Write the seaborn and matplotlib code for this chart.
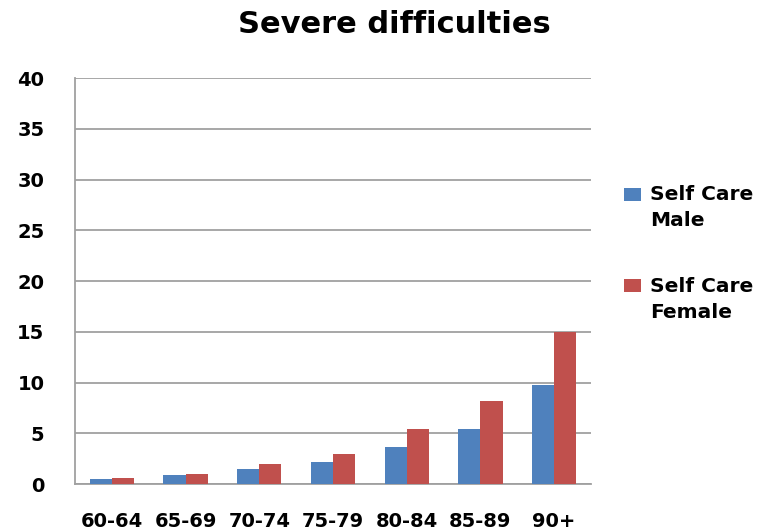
import matplotlib
matplotlib.use("Agg")
import matplotlib.pyplot as plt
from matplotlib.patches import Rectangle
import seaborn as sns
import pandas as pd

age_groups = ["60-64", "65-69", "70-74", "75-79", "80-84", "85-89", "90+"]
male = [0.5, 0.9, 1.5, 2.2, 3.6, 5.4, 9.8]
female = [0.6, 1.0, 2.0, 3.0, 5.4, 8.2, 15.0]
series_names = ["Self Care\nMale", "Self Care\nFemale"]
colors = ["#4F81BD", "#C0504D"]
y_ticks = [0, 5, 10, 15, 20, 25, 30, 35, 40]

df = pd.DataFrame({
    "age": age_groups * 2,
    "value": male + female,
    "series": [series_names[0]] * len(age_groups) + [series_names[1]] * len(age_groups),
})

sns.set_theme(style="white")
plt.rcParams["font.family"] = ["DejaVu Sans"]
plt.rcParams["font.weight"] = "bold"

fig = plt.figure(figsize=(7.68, 5.31), dpi=100)
ax = fig.add_axes([0.0977, 0.0885, 0.6718, 0.7645])

sns.barplot(data=df, x="age", y="value", hue="series", order=age_groups,
            hue_order=series_names, palette=colors, width=0.6,
            saturation=1, linewidth=0, ax=ax, zorder=3, legend=False)

ax.set_ylim(0, 40)
ax.set_yticks(y_ticks)
ax.set_xlim(-0.5, len(age_groups) - 0.5)
ax.grid(axis="y", color="#A0A0A0", linewidth=1.3, zorder=0)
ax.set_axisbelow(True)
for side in ["top", "right"]:
    ax.spines[side].set_visible(False)
for side in ["left", "bottom"]:
    ax.spines[side].set_color("#A0A0A0")
    ax.spines[side].set_linewidth(1.3)
    ax.spines[side].set_zorder(2)
ax.set_xlabel("")
ax.set_ylabel("")
ax.tick_params(axis="y", length=0, pad=22, labelsize=14)
ax.tick_params(axis="x", length=0, pad=20, labelsize=14)
for lbl in ax.get_xticklabels() + ax.get_yticklabels():
    lbl.set_fontweight("bold")
    lbl.set_color("black")

fig.text(0.514, 0.953, "Severe difficulties", ha="center", va="center",
         fontsize=22, fontweight="bold", color="black")

# Legend: colour key aligned with the first line of each two-line label
key_y = [0.6215, 0.450]
text_y = [0.6525, 0.479]
for name, color, ky, ty in zip(series_names, colors, key_y, text_y):
    fig.add_artist(Rectangle((0.8125, ky), 0.022, 0.0245,
                             transform=fig.transFigure, facecolor=color,
                             edgecolor="none"))
    fig.text(0.846, ty, name, ha="left", va="top", fontsize=14.5,
             fontweight="bold", color="black", linespacing=1.5)

fig.savefig("out.png", dpi=100)
